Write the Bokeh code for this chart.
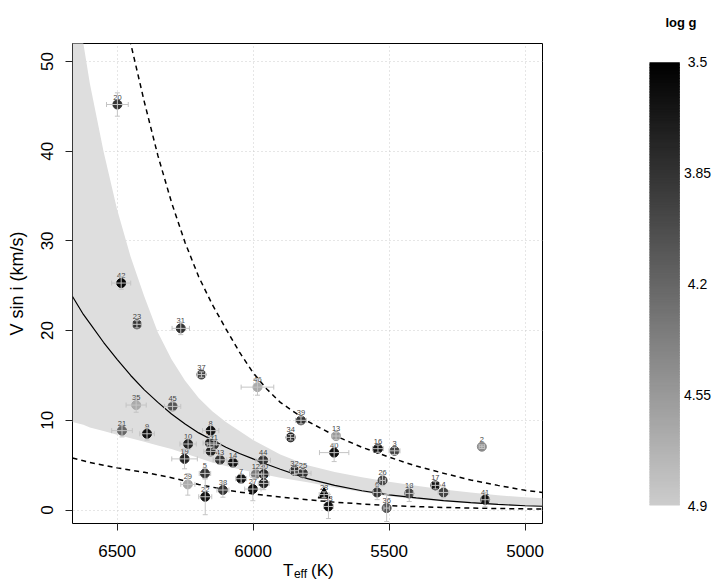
import numpy as np
from bokeh.plotting import figure
from bokeh.layouts import row, column
from bokeh.models import (ColumnDataSource, Range1d, Whisker, TeeHead,
                          FixedTicker)
from bokeh.transform import linear_cmap
from bokeh.embed import file_html
from bokeh.resources import INLINE
from bokeh.core.properties import value

FONT = "Liberation Sans"

# ---------------- data ----------------
star_id = [str(i) for i in range(1, 47)]
teff = [6156, 5159, 5480, 5300, 6177, 5544, 6044, 6156, 6390, 6239,
        6144, 5990, 5695, 6074, 5961, 5541, 5330, 5426, 6252, 6499,
        6482, 6176, 6427, 6159, 5817, 5524, 6001, 5739, 6240, 5961,
        6266, 5848, 5723, 5862, 6430, 5509, 6190, 6111, 5824, 5702,
        5147, 6485, 6122, 5963, 6296, 5984]
teff_err = [25, 10, 20, 20, 21, 15, 20, 30, 27, 30,
            25, 22, 15, 20, 20, 20, 15, 15, 47, 40,
            38, 24, 16, 25, 30, 10, 30, 18, 26, 20,
            32, 15, 18, 15, 37, 10, 15, 22, 20, 54,
            15, 35, 25, 27, 30, 60]
vsini = [6.54, 7.06, 6.6, 1.96, 4.08, 1.96, 3.49, 8.85, 8.5, 7.36,
         7.28, 4.0, 8.25, 5.28, 2.97, 6.84, 2.75, 1.85, 5.7, 45.2,
         8.85, 1.48, 20.7, 7.47, 4.1, 3.3, 2.34, 1.72, 2.86, 4.0,
         20.25, 4.38, 0.4, 8.1, 11.7, 0.22, 15.1, 2.23, 10.0, 6.4,
         1.15, 25.3, 5.6, 5.55, 11.55, 13.7]
vsini_err = [0.5, 0.2, 0.4, 0.6, 0.6, 0.8, 0.5, 0.6, 0.7, 0.6,
             0.5, 0.5, 0.4, 0.5, 0.7, 0.4, 0.4, 0.9, 1.1, 1.3,
             0.7, 2.0, 0.4, 0.5, 0.4, 0.6, 1.3, 0.3, 1.2, 0.7,
             0.7, 0.4, 1.35, 0.3, 0.8, 1.5, 0.3, 0.8, 0.4, 1.0,
             0.8, 0.7, 0.5, 0.5, 0.5, 0.9]
logg = [3.75, 4.45, 3.97, 3.97, 3.85, 3.85, 3.62, 3.62, 3.62, 3.75,
        3.85, 4.32, 4.55, 3.62, 3.75, 3.62, 3.62, 3.97, 3.75, 3.85,
        4.2, 3.62, 3.85, 3.75, 3.85, 3.97, 3.62, 3.5, 4.67, 3.75,
        3.85, 3.85, 3.62, 3.75, 4.67, 4.08, 3.97, 3.85, 3.85, 3.62,
        3.62, 3.55, 3.85, 3.85, 4.08, 4.67]
triangle_id = "28"

curve_teff = [6664, 6624, 6600, 6550, 6500, 6450, 6400, 6350, 6300, 6250,
              6200, 6150, 6100, 6050, 6000, 5950, 5900, 5800, 5700, 5600,
              5500, 5400, 5300, 5200, 5100, 5000, 4936]
curve_model = [23.8, 21.8, 20.8, 18.7, 16.8, 15.0, 13.4, 12.0, 10.7, 9.6,
               8.6, 7.8, 7.0, 6.3, 5.7, 5.1, 4.55, 3.5, 2.75, 2.15,
               1.7, 1.35, 1.05, 0.82, 0.63, 0.48, 0.42]
band_upper = [60, 52, 47.5, 40, 33.5, 28.2, 23.8, 19.8, 16.8, 14.4,
              12.5, 11.0, 9.8, 8.8, 7.8, 7.0, 6.2, 5.0, 4.25, 3.65,
              3.15, 2.7, 2.3, 1.95, 1.65, 1.42, 1.32]
band_lower = [9.8, 9.5, 9.2, 8.8, 8.4, 8.0, 7.6, 7.2, 6.8, 6.3,
              5.8, 5.3, 4.9, 4.55, 4.2, 3.9, 3.6, 3.1, 2.5, 2.0,
              1.55, 1.2, 0.95, 0.74, 0.56, 0.43, 0.38]
dash_upper = [90, 80, 74, 65, 58, 52, 45.5, 39.5, 34.3, 29.8,
              26.0, 22.9, 20.2, 17.6, 15.3, 13.5, 12.0, 9.9, 8.3, 7.0,
              5.9, 4.9, 4.1, 3.35, 2.75, 2.2, 1.95]
dash_lower = [5.8, 5.5, 5.3, 5.0, 4.7, 4.45, 4.2, 3.9, 3.6, 3.25,
              2.85, 2.55, 2.25, 2.0, 1.8, 1.62, 1.45, 1.15, 0.88, 0.68,
              0.5, 0.38, 0.29, 0.22, 0.17, 0.13, 0.11]

x_ticks = [6500, 6000, 5500, 5000]
x_tick_labels = ["6500", "6000", "5500", "5000"]
y_ticks = [0, 10, 20, 30, 40, 50]
cbar_ticks = [3.5, 3.85, 4.2, 4.55, 4.9]
cbar_labels = ["3.5", "3.85", "4.2", "4.55", "4.9"]
logg_low, logg_high = 3.5, 4.9

# ---------------- styling helpers ----------------
palette = ["#%02x%02x%02x" % (g, g, g)
           for g in np.linspace(0, 204, 256).round().astype(int)]

src_all = dict(id=star_id, teff=teff, vsini=vsini, logg=logg,
               t_lo=[t - e for t, e in zip(teff, teff_err)],
               t_hi=[t + e for t, e in zip(teff, teff_err)],
               v_lo=[v - e for v, e in zip(vsini, vsini_err)],
               v_hi=[v + e for v, e in zip(vsini, vsini_err)])
src = ColumnDataSource(src_all)
is_tri = [s == triangle_id for s in star_id]
src_circ = ColumnDataSource({k: [v for v, t in zip(vals, is_tri) if not t]
                             for k, vals in src_all.items()})
src_tri = ColumnDataSource({k: [v for v, t in zip(vals, is_tri) if t]
                            for k, vals in src_all.items()})

TOP, FRAME_W, FRAME_H, BOTTOM = 43, 470, 480, 15
STRIP_H = 42
X_RANGE = (6664, 4936)
K_PER_PX = (X_RANGE[0] - X_RANGE[1]) / FRAME_W

# ---------------- main figure ----------------
p = figure(frame_width=FRAME_W, frame_height=FRAME_H,
           x_range=Range1d(*X_RANGE), y_range=Range1d(-1.5, 52),
           output_backend="svg", toolbar_location=None,
           min_border_left=72, min_border_right=58,
           min_border_top=TOP, min_border_bottom=BOTTOM)
p.background_fill_color = "white"
p.border_fill_color = "white"
p.outline_line_color = "black"
p.outline_line_width = 1

p.xaxis.ticker = FixedTicker(ticks=x_ticks)
p.yaxis.ticker = FixedTicker(ticks=y_ticks)
p.xgrid.ticker = FixedTicker(ticks=x_ticks)
p.ygrid.ticker = FixedTicker(ticks=y_ticks)
p.grid.grid_line_color = "#cccccc"
p.grid.grid_line_dash = "1 3"
p.grid.grid_line_width = 1

for ax in (p.xaxis, p.yaxis):
    ax.axis_line_color = None
    ax.major_tick_out = 7
    ax.major_tick_in = 0
    ax.major_tick_line_color = "#222222"
    ax.minor_tick_line_color = None
    ax.major_label_text_font = FONT
    ax.major_label_text_font_size = "17px"
    ax.major_label_text_color = "black"
# x tick labels are drawn in the strip below (keeps the layout exact);
# the axis itself only draws its tick marks
p.xaxis.major_label_overrides = {t: "" for t in x_ticks}
p.xaxis.major_label_text_color = None
p.xaxis.major_label_text_font_size = "0px"
p.xaxis.major_label_standoff = 0
p.yaxis.major_label_standoff = 12
p.yaxis.major_label_orientation = "vertical"
p.yaxis.axis_label = "V sin i (km/s)"
p.yaxis.axis_label_text_font = FONT
p.yaxis.axis_label_text_font_size = "18px"
p.yaxis.axis_label_text_font_style = "normal"
p.yaxis.axis_label_text_color = "black"
p.yaxis.axis_label_standoff = 12

# band and model curves
p.varea(x=curve_teff, y1=band_lower, y2=band_upper, fill_color="#dedede")
p.line(curve_teff, curve_model, line_color="black", line_width=1.2)
p.line(curve_teff, dash_upper, line_color="black", line_width=1.5,
       line_dash="5 4")
p.line(curve_teff, dash_lower, line_color="black", line_width=1.5,
       line_dash="5 4")

# star labels
p.text(x="teff", y="vsini", text="id", source=src,
       text_font=value(FONT), text_font_size="7.5px", text_color="#444444",
       text_align="center", text_baseline="alphabetic", y_offset=-7.5)

# points
cmap = linear_cmap("logg", palette, logg_low, logg_high)
p.scatter(x="teff", y="vsini", source=src_circ, marker="circle", size=9,
          fill_color=cmap, line_color=cmap)
p.scatter(x="teff", y="vsini", source=src_tri, marker="triangle", size=12,
          fill_color="black", line_color="black")

# error bars
eb_col = "#c4c4c4"
wx = Whisker(source=src, base="vsini", lower="t_lo", upper="t_hi",
             dimension="width", line_color=eb_col, line_width=1,
             level="annotation",
             lower_head=TeeHead(size=5, line_color=eb_col, line_width=1),
             upper_head=TeeHead(size=5, line_color=eb_col, line_width=1))
wy = Whisker(source=src, base="teff", lower="v_lo", upper="v_hi",
             dimension="height", line_color=eb_col, line_width=1,
             level="annotation",
             lower_head=TeeHead(size=5, line_color=eb_col, line_width=1),
             upper_head=TeeHead(size=5, line_color=eb_col, line_width=1))
p.add_layout(wx)
p.add_layout(wy)

# ---------------- strip below: x tick labels and T_eff (K) title ----------------
EXTRA_R = 30  # let the strip's frame run a bit past the plot frame
xt = figure(frame_width=FRAME_W + EXTRA_R, frame_height=STRIP_H,
            x_range=Range1d(X_RANGE[0], X_RANGE[1] - EXTRA_R * K_PER_PX),
            y_range=Range1d(STRIP_H, 0),
            output_backend="svg", toolbar_location=None,
            min_border_left=72, min_border_right=58 - EXTRA_R,
            min_border_top=0, min_border_bottom=0,
            x_axis_location=None, y_axis_location=None)
xt.outline_line_color = None
xt.grid.visible = False
xt.background_fill_color = "white"
xt.border_fill_color = "white"
xt.text(x=x_ticks, y=[12.5] * len(x_ticks), text=x_tick_labels,
        text_font=value(FONT), text_font_size="17px", text_color="black",
        text_align="center", text_baseline="alphabetic")
xt.text(x=[5890], y=[32], text=["T"], text_font=value(FONT),
        text_font_size="17px", text_color="black", text_baseline="alphabetic")
xt.text(x=[5850], y=[35], text=["eff"], text_font=value(FONT),
        text_font_size="12px", text_color="black", text_baseline="alphabetic")
xt.text(x=[5787], y=[32], text=["(K)"], text_font=value(FONT),
        text_font_size="17px", text_color="black", text_baseline="alphabetic")

# ---------------- colour bar figure ----------------
cb = figure(frame_width=125, frame_height=FRAME_H,
            x_range=Range1d(0, 125), y_range=Range1d(4.9568, 3.4409),
            output_backend="svg", toolbar_location=None,
            min_border_left=0, min_border_right=0,
            min_border_top=TOP, min_border_bottom=BOTTOM,
            x_axis_location=None, y_axis_location=None)
cb.outline_line_color = None
cb.grid.visible = False
cb.background_fill_color = "white"
cb.border_fill_color = "white"
cb.title.text = "log g"
cb.title.text_font = FONT
cb.title.text_font_size = "13px"
cb.title.text_font_style = "bold"
cb.title.text_color = "black"
cb.title.align = "left"
cb.title.offset = 65
cb.title.vertical_align = "middle"
cb.title.standoff = 25

n_steps = 280
levels = np.linspace(logg_low, logg_high, n_steps + 1)
step = levels[1] - levels[0]
grad = ColumnDataSource(dict(top=levels[:-1],
                             bottom=np.minimum(levels[1:] + 0.6 * step, logg_high),
                             mid=(levels[:-1] + levels[1:]) / 2))
gcmap = linear_cmap("mid", palette, logg_low, logg_high)
cb.quad(left=49, right=79.3, top="top", bottom="bottom", source=grad,
        fill_color=gcmap, line_color=None)
cb.text(x=[97] * len(cbar_ticks), y=cbar_ticks, text=cbar_labels,
        text_font=value(FONT), text_font_size="14px", text_color="black",
        text_align="center", text_baseline="middle")

layout = column(row(p, cb), xt)
open("out.html", "w").write(file_html(layout, INLINE))
